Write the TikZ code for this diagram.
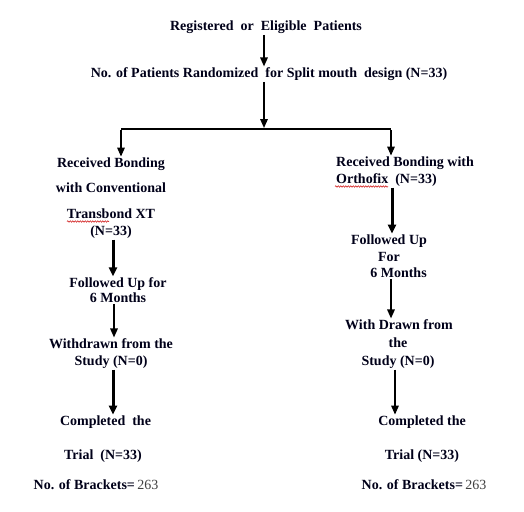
\documentclass[tikz,border=0pt]{standalone}
\usepackage{fontspec}
\setmainfont{Liberation Serif}
\usetikzlibrary{arrows.meta,decorations.pathmorphing}
\begin{document}
\begin{tikzpicture}[x=1pt,y=-1pt,
  txt/.style={font=\fontsize{14}{16}\selectfont\bfseries, text=black!90!blue, inner sep=1pt, anchor=base},
  num/.style={font=\fontsize{14}{16}\selectfont, text=black!75},
  thinarr/.style={line width=1.6pt, -{Triangle[length=9pt,width=7.5pt]}},
  thickarr/.style={line width=3pt, -{Triangle[length=9pt,width=8pt]}},
  hline/.style={line width=2pt},
  squig/.style={red!80!black, line width=0.5pt, decorate, decoration={snake, amplitude=0.7pt, segment length=2.5pt}}]
\useasboundingbox (0,0) rectangle (524,511);
\fill[white] (0,0) rectangle (524,511);
% top
\node[txt] (T1) at (266,30.5) {Registered\ \ or\ \ Eligible\ \ Patients};
\node[txt] (T2) at (269,77.5) {No. of Patients Randomized\ \ for Split mouth\ \ design (N=33)};
% left branch
\node[txt] (L1) at (111,167.5) {Received Bonding};
\node[txt] (L2) at (111,192.5) {with Conventional};
\node[txt] (L3) at (111,218.5) {Transbond XT};
\node[txt] (L4) at (111,235.5) {(N=33)};
\node[txt] (L5) at (118,287.5) {Followed Up for};
\node[txt] (L6) at (118,302.5) {6 Months};
\node[txt] (L7) at (111,348.5) {Withdrawn from the};
\node[txt] (L8) at (111,365.5) {Study (N=0)};
\node[txt] (L9) at (105.5,425.5) {Completed\ \ the};
\node[txt] (L10) at (103,459.5) {Trial\ \ (N=33)};
\node[txt] (L11) at (96,489.5) {No. of Brackets=\,{\mdseries\color{black!75}263}};
% right branch
\node[txt, anchor=base west] (R1) at (335,166.5) {Received Bonding with};
\node[txt, anchor=base west] (R2) at (335,183.5) {Orthofix\ \ (N=33)};
\node[txt] (R3) at (389,244.5) {Followed Up};
\node[txt] (R4) at (389,261.5) {For};
\node[txt] (R5) at (398.5,277.5) {6 Months};
\node[txt] (R6) at (399,329.5) {With Drawn from};
\node[txt] (R7) at (398,347.5) {the};
\node[txt] (R8) at (398,365.5) {Study (N=0)};
\node[txt] (R9) at (422,425.5) {Completed the};
\node[txt] (R10) at (422,459.5) {Trial (N=33)};
\node[txt] (R11) at (424,489.5) {No. of Brackets=\,{\mdseries\color{black!75}263}};
% spell-check underlines
\draw[squig] (67,221.5) -- (109,221.5);
\draw[squig] (335,186.5) -- (388,186.5);
% axis coordinates
\coordinate (x0) at (264,0);
\coordinate (xl) at (121,0);
\coordinate (xr) at (391,0);
\coordinate (a5) at (113,0);
\coordinate (a6) at (114,0);
\coordinate (a8) at (392,0);
\coordinate (a9) at (391,0);
\coordinate (a10) at (395,0);
\coordinate (jc) at (264,128);
\coordinate (jl) at (121,129);
\coordinate (jr) at (391,129);
% connectors
\draw[thinarr] (T1.south -| x0) -- (T2.north -| x0);
\draw[thinarr] (T2.south -| x0) -- (jc);
\draw[hline] (jl) -- (jr);
\draw[thinarr] ([yshift=-1pt]jl) -- (L1.north -| xl);
\draw[thinarr] ([yshift=-1pt]jr) -- (R1.north -| xr);
\draw[thickarr] (L4.south -| a5) -- (L5.north -| a5);
\draw[thinarr] (L6.south -| a6) -- (L7.north -| a6);
\draw[thickarr] (L8.south -| a5) -- (L9.north -| a5);
\draw[thickarr] (R2.south -| a8) -- (R3.north -| a8);
\draw[thinarr] (R5.south -| a9) -- (R6.north -| a9);
\draw[thinarr] (R8.south -| a10) -- (R9.north -| a10);
\end{tikzpicture}
\end{document}
